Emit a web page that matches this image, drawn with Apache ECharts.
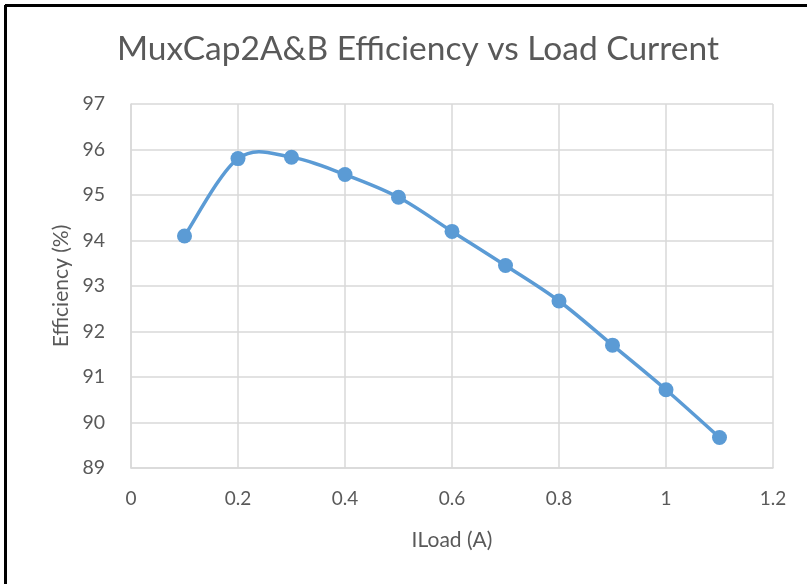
<!DOCTYPE html>
<html>
<head>
<meta charset="utf-8">
<script src="https://cdn.jsdelivr.net/npm/echarts@6/dist/echarts.min.js"></script>
<style>
  html, body { margin: 0; padding: 0; background: #fff; }
  #chart { width: 807px; height: 584px; }
</style>
</head>
<body>
<div id="chart"></div>
<script>
// 负载电流 (A)
var loadCurrent = [0.1, 0.2, 0.3, 0.4, 0.5, 0.6, 0.7, 0.8, 0.9, 1.0, 1.1];
// 效率 (%)
var efficiency = [94.10, 95.80, 95.83, 95.45, 94.95, 94.20, 93.45, 92.67, 91.70, 90.72, 89.67];

var points = loadCurrent.map(function (x, i) { return [x, efficiency[i]]; });

var labelColor = '#595959';
var gridColor = '#d9d9d9';
var lineColor = '#5b9bd5';
var font = 'Lato';

var myChart = echarts.init(document.getElementById('chart'));

// Excel 风格的平滑曲线 (Catmull-Rom -> Bezier), 每段一个 path
function renderSegment(params, api) {
  var i = params.dataIndex;
  if (i >= points.length - 1) return null;
  var p1 = api.coord(points[i]);
  var p2 = api.coord(points[i + 1]);
  var p0 = i > 0 ? api.coord(points[i - 1]) : p1;
  var p3 = i + 2 < points.length ? api.coord(points[i + 2]) : p2;
  var t = 1 / 6;
  var c1 = [p1[0] + (p2[0] - p0[0]) * t, p1[1] + (p2[1] - p0[1]) * t];
  var c2 = [p2[0] - (p3[0] - p1[0]) * t, p2[1] - (p3[1] - p1[1]) * t];
  return {
    type: 'bezierCurve',
    shape: { x1: p1[0], y1: p1[1], x2: p2[0], y2: p2[1], cpx1: c1[0], cpy1: c1[1], cpx2: c2[0], cpy2: c2[1] },
    style: { stroke: lineColor, lineWidth: 3.5, fill: null, lineCap: 'round' }
  };
}

var option = {
  backgroundColor: '#fff',
  animation: false,
  title: {
    text: 'MuxCap2A&B Efficiency vs Load Current',
    left: 112,
    top: 27,
    textStyle: {
      fontFamily: font,
      fontSize: 33.5,
      fontWeight: 'normal',
      color: labelColor
    }
  },
  // 外框线 (左、上)
  graphic: [
    { type: 'line', shape: { x1: 5.5, y1: 5, x2: 5.5, y2: 584 }, style: { stroke: '#000', lineWidth: 3 } },
    { type: 'line', shape: { x1: 5, y1: 5.5, x2: 807, y2: 5.5 }, style: { stroke: '#000', lineWidth: 3 } }
  ],
  grid: {
    left: 131,
    top: 104,
    right: 34,
    bottom: 116
  },
  xAxis: {
    type: 'value',
    min: 0,
    max: 1.2,
    interval: 0.2,
    name: 'ILoad (A)',
    nameLocation: 'middle',
    nameGap: 62,
    nameTextStyle: { fontFamily: font, fontSize: 21, color: labelColor },
    axisLine: { show: true, lineStyle: { color: gridColor, width: 1.5 } },
    axisTick: { show: false },
    axisLabel: {
      fontFamily: font, fontSize: 19, color: labelColor, margin: 21,
      formatter: function (v) { return String(Math.round(v * 10) / 10); }
    },
    splitLine: { show: true, lineStyle: { color: gridColor, width: 1.5 } }
  },
  yAxis: {
    type: 'value',
    min: 89,
    max: 97,
    interval: 1,
    name: 'Efficiency (%)',
    nameLocation: 'middle',
    nameGap: 58,
    nameTextStyle: { fontFamily: font, fontSize: 21, color: labelColor },
    axisLine: { show: true, lineStyle: { color: gridColor, width: 1.5 } },
    axisTick: { show: false },
    axisLabel: { fontFamily: font, fontSize: 19.5, color: labelColor, margin: 26 },
    splitLine: { show: true, lineStyle: { color: gridColor, width: 1.5 } }
  },
  series: [
    {
      name: 'curve',
      type: 'custom',
      data: points,
      renderItem: renderSegment,
      z: 2
    },
    {
      name: 'Efficiency',
      type: 'scatter',
      data: points,
      symbol: 'circle',
      symbolSize: 15,
      itemStyle: { color: lineColor, opacity: 1 },
      z: 3
    }
  ]
};
myChart.setOption(option);
</script>
</body>
</html>
